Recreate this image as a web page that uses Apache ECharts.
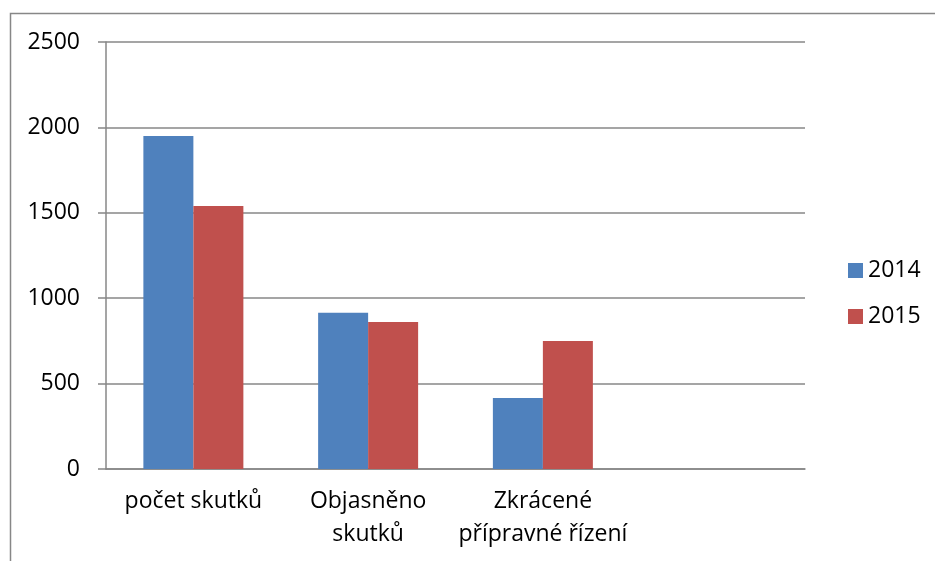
<!DOCTYPE html>
<html>
<head>
<meta charset="utf-8">
<script src="https://cdn.jsdelivr.net/npm/echarts@6/dist/echarts.min.js"></script>
<style>
  html, body { margin: 0; padding: 0; background: #fff; }
  #chart { width: 935px; height: 561px; }
</style>
</head>
<body>
<div id="chart"></div>
<script>
// chart data
const categories = ['počet skutků', 'Objasněno\nskutků', 'Zkrácené\npřípravné řízení', ''];
const values2014 = [1950, 915, 415, null];
const values2015 = [1540, 860, 750, null];
const yTicks = { min: 0, max: 2500, interval: 500 };

const font = '"Open Sans", "Noto Sans", sans-serif';
const gridColor = '#878787';

const chart = echarts.init(document.getElementById('chart'));
chart.setOption({
  animation: false,
  color: ['#4F81BD', '#C0504D'],
  graphic: [
    {
      // outer frame, cut off at the right and bottom
      type: 'rect',
      shape: { x: 10.5, y: 13.5, width: 1000, height: 1000 },
      style: { fill: 'none', stroke: gridColor, lineWidth: 1.5 },
      silent: true
    }
  ],
  grid: { left: 106, right: 130, top: 42, bottom: 92 },
  legend: {
    orient: 'vertical',
    left: 843,
    top: 254,
    itemWidth: 15,
    itemHeight: 15,
    itemGap: 23,
    icon: 'rect',
    textStyle: { fontFamily: font, fontSize: 23, color: '#000', padding: [0, 0, 0, 0] },
    data: ['2014', '2015']
  },
  xAxis: {
    type: 'category',
    data: categories,
    axisLine: { lineStyle: { color: gridColor, width: 1.5 } },
    axisTick: { length: 8, lineStyle: { color: gridColor, width: 1.5 } },
    axisLabel: {
      fontFamily: font, fontSize: 23, color: '#000',
      margin: 16, lineHeight: 33, interval: 0
    },
    splitLine: { show: false }
  },
  yAxis: {
    type: 'value',
    min: yTicks.min,
    max: yTicks.max,
    interval: yTicks.interval,
    axisLine: { show: true, lineStyle: { color: gridColor, width: 1.5 } },
    axisTick: { show: true, length: 8, lineStyle: { color: gridColor, width: 1.5 } },
    axisLabel: {
      fontFamily: font, fontSize: 23, color: '#000', margin: 26,
      formatter: (v) => String(v)
    },
    splitLine: { lineStyle: { color: gridColor, width: 1.5 } }
  },
  series: [
    { name: '2014', type: 'bar', data: values2014, barWidth: 50, barGap: '0%' },
    { name: '2015', type: 'bar', data: values2015, barWidth: 50, barGap: '0%' }
  ]
});
</script>
</body>
</html>
